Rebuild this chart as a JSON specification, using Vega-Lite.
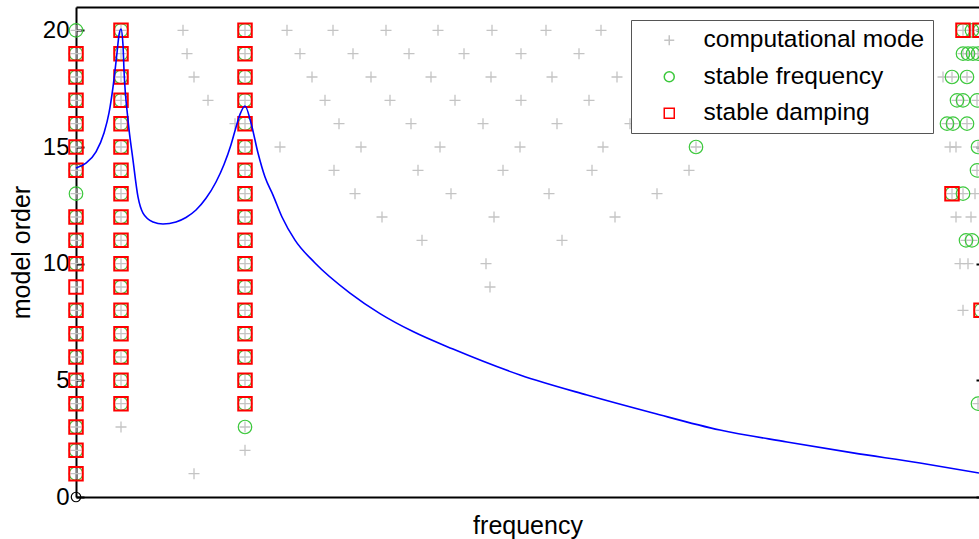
{
  "$schema": "https://vega.github.io/schema/vega-lite/v6.json",
  "width": 903,
  "height": 490,
  "autosize": {"type": "none"},
  "padding": {"left": 76, "top": 7, "right": 0, "bottom": 42},
  "background": "white",
  "config": {
    "font": "Liberation Sans",
    "view": {"stroke": null},
    "axis": {"grid": false, "domainColor": "black", "domainWidth": 2, "tickColor": "black", "tickWidth": 2, "labelColor": "black", "titleColor": "black", "titleFontWeight": "normal"}
  },
  "datasets": {
    "cm": [
      {"f":0,"order":1},{"f":0,"order":2},{"f":0,"order":3},{"f":0,"order":4},{"f":0,"order":5},{"f":0,"order":6},{"f":0,"order":7},{"f":0,"order":8},{"f":0,"order":9},{"f":0,"order":10},
      {"f":0,"order":11},{"f":0,"order":12},{"f":0,"order":13},{"f":0,"order":14},{"f":0,"order":15},{"f":0,"order":16},{"f":0,"order":17},{"f":0,"order":18},{"f":0,"order":19},{"f":0,"order":20},
      {"f":45,"order":3},{"f":45,"order":4},{"f":45,"order":5},{"f":45,"order":6},{"f":45,"order":7},{"f":45,"order":8},{"f":45,"order":9},{"f":45,"order":10},{"f":45,"order":11},
      {"f":45,"order":12},{"f":45,"order":13},{"f":45,"order":14},{"f":45,"order":15},{"f":45,"order":16},{"f":45,"order":17},{"f":45,"order":18},{"f":45,"order":19},{"f":45,"order":20},
      {"f":169,"order":2},{"f":169,"order":3},{"f":169,"order":4},{"f":169,"order":5},{"f":169,"order":6},{"f":169,"order":7},{"f":169,"order":8},{"f":169,"order":9},{"f":169,"order":10},{"f":169,"order":11},
      {"f":169,"order":12},{"f":169,"order":13},{"f":169,"order":14},{"f":169,"order":15},{"f":169,"order":16},{"f":169,"order":17},{"f":169,"order":18},{"f":169,"order":19},{"f":169,"order":20},
      {"f":118,"order":1},
      {"f":107,"order":20},{"f":211,"order":20},{"f":257,"order":20},{"f":310,"order":20},{"f":362,"order":20},{"f":416,"order":20},{"f":470,"order":20},{"f":525,"order":20},{"f":887,"order":20},{"f":896,"order":20},{"f":904,"order":20},
      {"f":111,"order":19},{"f":224,"order":19},{"f":277,"order":19},{"f":333,"order":19},{"f":388,"order":19},{"f":445,"order":19},{"f":503,"order":19},{"f":887,"order":19},{"f":892,"order":19},{"f":897,"order":19},{"f":902,"order":19},
      {"f":118,"order":18},{"f":236,"order":18},{"f":295,"order":18},{"f":355,"order":18},{"f":415,"order":18},{"f":476,"order":18},{"f":541,"order":18},{"f":867,"order":18},{"f":876,"order":18},{"f":891,"order":18},
      {"f":132,"order":17},{"f":249,"order":17},{"f":314,"order":17},{"f":379,"order":17},{"f":445,"order":17},{"f":513,"order":17},{"f":881,"order":17},{"f":887,"order":17},{"f":901,"order":17},
      {"f":159,"order":16},{"f":263,"order":16},{"f":335,"order":16},{"f":407,"order":16},{"f":481,"order":16},{"f":554,"order":16},{"f":871,"order":16},{"f":877,"order":16},{"f":891,"order":16},
      {"f":204,"order":15},{"f":285,"order":15},{"f":364,"order":15},{"f":444,"order":15},{"f":527,"order":15},{"f":620,"order":15},{"f":874,"order":15},{"f":880,"order":15},{"f":902,"order":15},
      {"f":258,"order":14},{"f":342,"order":14},{"f":427,"order":14},{"f":516,"order":14},{"f":613,"order":14},{"f":901,"order":14},
      {"f":279,"order":13},{"f":375,"order":13},{"f":473,"order":13},{"f":581,"order":13},{"f":876,"order":13},{"f":887,"order":13},{"f":899,"order":13},
      {"f":306,"order":12},{"f":418,"order":12},{"f":539,"order":12},{"f":880,"order":12},{"f":895,"order":12},
      {"f":346,"order":11},{"f":486,"order":11},{"f":890,"order":11},{"f":896,"order":11},
      {"f":410,"order":10},{"f":884,"order":10},{"f":892,"order":10},
      {"f":414,"order":9},
      {"f":887,"order":8},{"f":905,"order":8},
      {"f":902,"order":4}
    ],
    "sf": [
      {"f":0,"order":1},{"f":0,"order":2},{"f":0,"order":3},{"f":0,"order":4},{"f":0,"order":5},{"f":0,"order":6},{"f":0,"order":7},{"f":0,"order":8},{"f":0,"order":10},
      {"f":0,"order":11},{"f":0,"order":12},{"f":0,"order":13},{"f":0,"order":14},{"f":0,"order":15},{"f":0,"order":16},{"f":0,"order":17},{"f":0,"order":18},{"f":0,"order":19},{"f":0,"order":20},
      {"f":45,"order":4},{"f":45,"order":5},{"f":45,"order":6},{"f":45,"order":7},{"f":45,"order":8},{"f":45,"order":9},{"f":45,"order":10},{"f":45,"order":11},
      {"f":45,"order":12},{"f":45,"order":13},{"f":45,"order":14},{"f":45,"order":15},{"f":45,"order":16},{"f":45,"order":17},{"f":45,"order":18},{"f":45,"order":19},{"f":45,"order":20},
      {"f":169,"order":3},{"f":169,"order":4},{"f":169,"order":5},{"f":169,"order":6},{"f":169,"order":7},{"f":169,"order":8},{"f":169,"order":9},{"f":169,"order":10},{"f":169,"order":11},
      {"f":169,"order":12},{"f":169,"order":13},{"f":169,"order":14},{"f":169,"order":15},{"f":169,"order":16},{"f":169,"order":17},{"f":169,"order":18},{"f":169,"order":19},{"f":169,"order":20},
      {"f":620,"order":15},{"f":902,"order":15},
      {"f":887,"order":20},{"f":896,"order":20},{"f":904,"order":20},
      {"f":887,"order":19},{"f":892,"order":19},{"f":897,"order":19},{"f":902,"order":19},
      {"f":876,"order":18},{"f":891,"order":18},
      {"f":881,"order":17},{"f":887,"order":17},{"f":901,"order":17},
      {"f":871,"order":16},{"f":877,"order":16},{"f":891,"order":16},
      {"f":901,"order":14},
      {"f":876,"order":13},{"f":887,"order":13},
      {"f":890,"order":11},{"f":896,"order":11},
      {"f":905,"order":8},
      {"f":902,"order":4}
    ],
    "sd": [
      {"f":0,"order":1},{"f":0,"order":2},{"f":0,"order":3},{"f":0,"order":4},{"f":0,"order":5},{"f":0,"order":6},{"f":0,"order":7},{"f":0,"order":8},{"f":0,"order":9},{"f":0,"order":10},
      {"f":0,"order":11},{"f":0,"order":12},{"f":0,"order":14},{"f":0,"order":15},{"f":0,"order":16},{"f":0,"order":17},{"f":0,"order":18},{"f":0,"order":19},
      {"f":45,"order":4},{"f":45,"order":5},{"f":45,"order":6},{"f":45,"order":7},{"f":45,"order":8},{"f":45,"order":9},{"f":45,"order":10},{"f":45,"order":11},
      {"f":45,"order":12},{"f":45,"order":13},{"f":45,"order":14},{"f":45,"order":15},{"f":45,"order":16},{"f":45,"order":17},{"f":45,"order":18},{"f":45,"order":19},{"f":45,"order":20},
      {"f":169,"order":4},{"f":169,"order":5},{"f":169,"order":6},{"f":169,"order":7},{"f":169,"order":8},{"f":169,"order":9},{"f":169,"order":10},{"f":169,"order":11},
      {"f":169,"order":12},{"f":169,"order":13},{"f":169,"order":14},{"f":169,"order":15},{"f":169,"order":16},{"f":169,"order":17},{"f":169,"order":18},{"f":169,"order":19},{"f":169,"order":20},
      {"f":887,"order":20},{"f":904,"order":20},{"f":876,"order":13},{"f":905,"order":8},
      {"f":911,"order":18},{"f":911,"order":16},{"f":911,"order":14},{"f":911,"order":12},{"f":911,"order":11},{"f":911,"order":10},{"f":911,"order":9},{"f":911,"order":7},{"f":911,"order":6},{"f":911,"order":5}
    ],
    "curve": [
      {"f":0,"order":14.10},{"f":10,"order":14.31},{"f":20,"order":14.79},{"f":28,"order":15.60},{"f":33,"order":16.46},{"f":37,"order":17.57},{"f":41,"order":19.03},{"f":43,"order":19.80},{"f":45,"order":20.06},
      {"f":47,"order":19.37},{"f":48,"order":18.30},{"f":52,"order":16.16},{"f":57,"order":14.44},{"f":62,"order":12.86},{"f":67,"order":12.17},{"f":77,"order":11.79},{"f":87,"order":11.70},
      {"f":100,"order":11.79},{"f":110,"order":11.98},{"f":120,"order":12.30},{"f":130,"order":12.80},{"f":140,"order":13.50},{"f":148,"order":14.25},{"f":155,"order":15.10},{"f":160,"order":15.85},{"f":164,"order":16.40},{"f":169,"order":16.76},
      {"f":175,"order":16.03},{"f":182,"order":14.74},{"f":189,"order":13.71},{"f":197,"order":12.94},{"f":206,"order":12.00},{"f":219,"order":11.01},{"f":239,"order":10.03},
      {"f":274,"order":8.74},{"f":304,"order":7.86},{"f":337,"order":7.09},{"f":377,"order":6.34},{"f":444,"order":5.23},{"f":511,"order":4.37},{"f":577,"order":3.60},
      {"f":644,"order":2.87},{"f":711,"order":2.36},{"f":777,"order":1.89},{"f":844,"order":1.46},{"f":903,"order":1.03}
    ],
    "origin": [{"f":0,"order":0}]
  },
  "layer": [
    {
      "data": {"name": "cm"},
      "transform": [{"calculate": "'computational mode'", "as": "type"}],
      "mark": {"type": "point", "filled": false, "strokeWidth": 1.3, "opacity": 1},
      "encoding": {
        "x": {"field": "f", "type": "quantitative", "scale": {"domain": [0, 903], "nice": false, "zero": false},
              "axis": {"orient": "bottom", "title": "frequency", "labels": false, "ticks": false, "titleFontSize": 25, "titlePadding": 16}},
        "y": {"field": "order", "type": "quantitative", "scale": {"domain": [0, 21], "nice": false},
              "axis": {"orient": "left", "values": [0, 5, 10, 15, 20], "tickSize": -8, "labelPadding": 15, "labelFontSize": 24, "title": "model order", "titleFontSize": 25, "titlePadding": 8}},
        "shape": {"field": "type", "type": "nominal",
                  "scale": {"domain": ["computational mode", "stable frequency", "stable damping"], "range": ["M-1,0H1M0,-1V1", "circle", "square"]},
                  "legend": {"title": null, "orient": "none", "legendX": 555, "legendY": 13, "fillColor": "white", "strokeColor": "#555555", "padding": 8, "rowPadding": 11.5, "labelFontSize": 24.5, "labelOffset": 22, "symbolOffset": 18, "symbolStrokeWidth": 1.5, "symbolOpacity": 1, "labelColor": "black", "labelLimit": 400,
                             "encode": {"symbols": {"update": {"size": {"signal": "datum.value === 'stable damping' ? 169 : datum.value === 'stable frequency' ? 81 : 121"}}}, "labels": {"update": {"dy": {"value": 2}}}}}},
        "color": {"field": "type", "type": "nominal",
                  "scale": {"domain": ["computational mode", "stable frequency", "stable damping"], "range": ["#c4c4c4", "#3cc83c", "#ff0000"]},
                  "legend": {"title": null, "orient": "none", "legendX": 555, "legendY": 13, "fillColor": "white", "strokeColor": "#555555", "padding": 8, "rowPadding": 11.5, "labelFontSize": 24.5, "labelOffset": 22, "symbolOffset": 18, "symbolStrokeWidth": 1.5, "symbolOpacity": 1, "labelColor": "black", "labelLimit": 400,
                             "encode": {"symbols": {"update": {"size": {"signal": "datum.value === 'stable damping' ? 169 : datum.value === 'stable frequency' ? 81 : 121"}}}, "labels": {"update": {"dy": {"value": 2}}}}}},
        "size": {"field": "type", "type": "nominal",
                 "scale": {"type": "ordinal", "domain": ["computational mode", "stable frequency", "stable damping"], "range": [121, 81, 169]},
                 "legend": null}
      }
    },
    {
      "data": {"name": "sf"},
      "transform": [{"calculate": "'stable frequency'", "as": "type"}],
      "mark": {"type": "point", "filled": false, "strokeWidth": 1.2, "opacity": 1},
      "encoding": {
        "x": {"field": "f", "type": "quantitative", "axis": null},
        "y": {"field": "order", "type": "quantitative", "axis": null},
        "shape": {"field": "type", "type": "nominal"},
        "color": {"field": "type", "type": "nominal"},
        "size": {"field": "type", "type": "nominal", "legend": null}
      }
    },
    {
      "data": {"name": "sd"},
      "transform": [{"calculate": "'stable damping'", "as": "type"}],
      "mark": {"type": "point", "filled": false, "strokeWidth": 2, "opacity": 1},
      "encoding": {
        "x": {"field": "f", "type": "quantitative", "axis": null},
        "y": {"field": "order", "type": "quantitative", "axis": null},
        "shape": {"field": "type", "type": "nominal"},
        "color": {"field": "type", "type": "nominal"},
        "size": {"field": "type", "type": "nominal", "legend": null}
      }
    },
    {
      "data": {"name": "curve"},
      "mark": {"type": "line", "color": "#0000ff", "strokeWidth": 1.6, "interpolate": "monotone"},
      "encoding": {
        "x": {"field": "f", "type": "quantitative", "axis": {"orient": "top", "labels": false, "ticks": false, "title": null}},
        "y": {"field": "order", "type": "quantitative", "axis": {"orient": "right", "labels": false, "domain": false, "values": [0, 5, 10, 15, 20], "tickSize": -3, "title": null}}
      }
    },
    {
      "data": {"name": "origin"},
      "mark": {"type": "point", "shape": "circle", "filled": false, "color": "black", "strokeWidth": 1.2, "size": 90, "opacity": 1},
      "encoding": {
        "x": {"field": "f", "type": "quantitative", "axis": null},
        "y": {"field": "order", "type": "quantitative", "axis": null}
      }
    }
  ]
}
